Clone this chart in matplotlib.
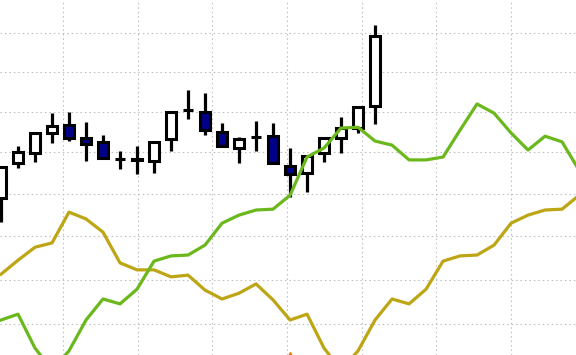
import matplotlib
matplotlib.use("Agg")
import matplotlib.pyplot as plt
import numpy as np
from matplotlib.ticker import NullLocator

# candle data (one per session, index 0..22)
opens  = [42.89, 43.73, 43.98, 44.47, 44.66, 44.34, 44.25, 43.83, 43.81, 43.78, 44.32, 45.04,
          44.99, 44.49, 44.10, 44.37, 44.39, 43.66, 43.49, 43.98, 44.34, 44.59, 45.14]
highs  = [43.64, 44.15, 44.47, 44.96, 44.99, 44.74, 44.42, 44.03, 44.15, 44.25, 44.99, 45.54,
          45.46, 44.71, 44.37, 44.76, 44.71, 44.10, 43.90, 44.34, 44.86, 45.11, 47.21]
lows   = [42.33, 43.61, 43.76, 44.22, 44.27, 43.78, 43.85, 43.59, 43.47, 43.49, 44.03, 44.81,
          44.42, 44.12, 43.73, 44.03, 43.73, 42.92, 43.04, 43.76, 43.98, 44.47, 44.69]
closes = [43.64, 44.00, 44.47, 44.64, 44.34, 44.20, 43.85, 43.84, 43.82, 44.25, 44.99, 45.05,
          44.54, 44.15, 44.32, 44.38, 43.73, 43.47, 43.90, 44.34, 44.59, 45.11, 46.92]

# indicator lines (index 0..34)
green_line = [40.09, 40.22, 39.47, 39.00, 39.41, 40.09, 40.56, 40.45, 40.78, 41.42, 41.54, 41.56,
              41.79, 42.30, 42.49, 42.61, 42.63, 42.96, 43.88, 44.10, 44.59, 44.61, 44.27, 44.17,
              43.81, 43.81, 43.88, 44.54, 45.19, 44.96, 44.47, 44.05, 44.39, 44.25, 43.56]
gold_line = [41.12, 41.44, 41.74, 41.84, 42.56, 42.40, 42.09, 41.38, 41.22, 41.22, 41.06, 41.10,
             40.76, 40.56, 40.69, 40.90, 40.54, 40.09, 40.22, 39.47, 39.00, 39.41, 40.09, 40.56,
             40.45, 40.78, 41.42, 41.54, 41.56, 41.79, 42.30, 42.49, 42.61, 42.63, 42.96]

signal_x = [17]
signal_y = [39.30]

grid_x = [3.647, 8.039, 12.431, 16.824, 21.216, 25.608, 30.0]
grid_y = [40, 41, 42, 43, 44, 45, 46, 47]

fig = plt.figure(figsize=(5.76, 3.55), dpi=100)
ax = fig.add_axes([0, 0, 1, 1])
ax.set_yscale("log")
ax.set_xlim(-0.0588, 33.82)
ax.set_ylim(39.32, 47.87)

for s in ax.spines.values():
    s.set_visible(False)
ax.set_xticks(grid_x)
ax.set_yticks(grid_y)
ax.yaxis.set_minor_locator(NullLocator())
ax.xaxis.set_minor_locator(NullLocator())
ax.tick_params(length=0, labelbottom=False, labelleft=False)
ax.grid(True, color="#c0c0c0", lw=0.8, ls=(0, (1.4, 2.6)), zorder=0)
ax.set_axisbelow(True)

x = np.arange(len(opens))
o = np.array(opens); c = np.array(closes)
ax.vlines(x, lows, highs, color="black", lw=2.3, zorder=2)
fills = ["white" if cc >= oo else "#00008b" for oo, cc in zip(o, c)]
ax.bar(x, np.abs(c - o), bottom=np.minimum(o, c), width=0.6, color=fills,
       edgecolor="black", linewidth=2.2, zorder=3)

xl = np.arange(len(green_line))
ax.plot(xl, gold_line, color="#bda514", lw=2.3, zorder=4)
ax.plot(xl, green_line, color="#6ab81c", lw=2.3, zorder=5)
ax.plot(signal_x, signal_y, marker="^", color="#e8780a", ms=6, ls="none", zorder=6)

fig.savefig("out.png", dpi=100)
